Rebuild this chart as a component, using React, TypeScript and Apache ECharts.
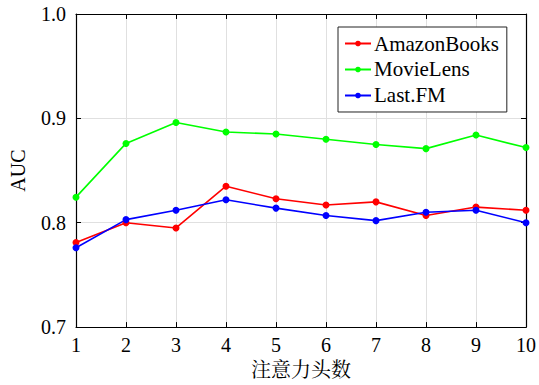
import React, { useEffect, useRef } from "react";
import * as echarts from "echarts";

// Number of attention heads
const heads = [1, 2, 3, 4, 5, 6, 7, 8, 9, 10];
const amazonBooks = [0.781, 0.8, 0.795, 0.835, 0.823, 0.817, 0.82, 0.807, 0.815, 0.812];
const movieLens = [0.8245, 0.876, 0.896, 0.887, 0.885, 0.88, 0.875, 0.871, 0.884, 0.872];
const lastFM = [0.776, 0.803, 0.812, 0.822, 0.814, 0.807, 0.802, 0.81, 0.812, 0.8];

const serif = "'Liberation Serif', 'DejaVu Serif', 'Noto Serif CJK SC', 'Noto Sans CJK SC', serif";

const pairs = (ys: number[]) => heads.map((x, i) => [x, ys[i]]);

export default function App() {
  const ref = useRef<HTMLDivElement>(null);

  useEffect(() => {
    if (!ref.current) return;
    const chart = echarts.init(ref.current, undefined, { renderer: "svg" });

    const line = (name: string, color: string, ys: number[]) => ({
      name,
      type: "line",
      data: pairs(ys),
      symbol: "circle",
      symbolSize: 7,
      lineStyle: { color, width: 1.6 },
      itemStyle: { color },
    });

    const frameAxis = {
      axisLine: { show: true, lineStyle: { color: "#000", width: 1.2 } },
      axisTick: { show: true, inside: true, length: 5, lineStyle: { color: "#000" } },
      axisLabel: { show: false },
      splitLine: { show: false },
    };

    chart.setOption({
      animation: false,
      backgroundColor: "#fff",
      textStyle: { fontFamily: serif },
      grid: { left: 73, right: 9, top: 14, bottom: 56 },
      legend: {
        orient: "vertical",
        left: 338,
        top: 27,
        backgroundColor: "#fff",
        borderColor: "#222",
        borderWidth: 1,
        padding: [6, 8, 6, 6],
        itemGap: 5,
        itemWidth: 26,
        itemHeight: 7,
        textStyle: { fontFamily: serif, fontSize: 21, color: "#000", padding: [0, 0, 0, -2] },
        data: ["AmazonBooks", "MovieLens", "Last.FM"],
      },
      xAxis: [
        {
          type: "value",
          min: 1,
          max: 10,
          interval: 1,
          name: "注意力头数",
          nameLocation: "middle",
          nameGap: 32,
          nameTextStyle: { fontFamily: serif, fontSize: 20, color: "#000" },
          axisLine: { show: true, lineStyle: { color: "#000", width: 1.2 } },
          axisTick: { show: true, inside: true, length: 5, lineStyle: { color: "#000" } },
          axisLabel: { fontFamily: serif, fontSize: 20, color: "#000", margin: 8 },
          splitLine: { show: true, lineStyle: { color: "#e0e0e0", width: 1 } },
        },
        { type: "value", position: "top", min: 1, max: 10, interval: 1, ...frameAxis },
      ],
      yAxis: [
        {
          type: "value",
          min: 0.7,
          max: 1.0,
          interval: 0.1,
          name: "AUC",
          nameLocation: "middle",
          nameGap: 48,
          nameTextStyle: { fontFamily: serif, fontSize: 20, color: "#000" },
          axisLine: { show: true, lineStyle: { color: "#000", width: 1.2 } },
          axisTick: { show: true, inside: true, length: 5, lineStyle: { color: "#000" } },
          axisLabel: {
            fontFamily: serif,
            fontSize: 20,
            color: "#000",
            margin: 10,
            formatter: (v: number) => v.toFixed(1),
          },
          splitLine: { show: true, lineStyle: { color: "#e0e0e0", width: 1 } },
        },
        { type: "value", position: "right", min: 0.7, max: 1.0, interval: 0.1, ...frameAxis },
      ],
      series: [
        line("AmazonBooks", "#ff0000", amazonBooks),
        line("MovieLens", "#00ff00", movieLens),
        line("Last.FM", "#0000ff", lastFM),
      ],
    });

    return () => chart.dispose();
  }, []);

  return <div ref={ref} style={{ width: 539, height: 385, position: "absolute", left: 0, top: 0 }} />;
}
